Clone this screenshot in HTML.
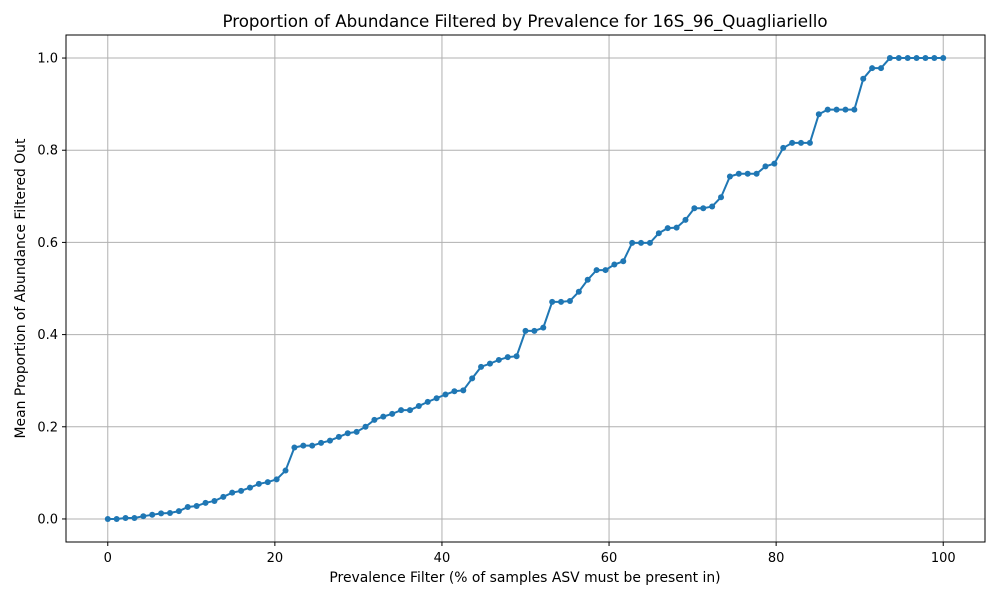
<!DOCTYPE html>
<html><head><meta charset="utf-8"><style>
body{margin:0;background:#fff;}
svg text{font-family:"DejaVu Sans","Liberation Sans",sans-serif;fill:#000;}
</style></head><body>
<svg id="chart" width="1000" height="600">
<rect x="0" y="0" width="1000" height="600" fill="#fff"/>
<text x="525" y="27" font-size="16.7" text-anchor="middle">Proportion of Abundance Filtered by Prevalence for 16S_96_Quagliariello</text>
<g id="grid"></g>
<g id="series"></g>
<rect x="66" y="35" width="919" height="507" fill="none" stroke="#000" stroke-width="1"/>
<g id="axes"></g>
<text x="525" y="582" font-size="13.9" text-anchor="middle">Prevalence Filter (% of samples ASV must be present in)</text>
<text transform="translate(25,288.5) rotate(-90)" font-size="13.9" text-anchor="middle">Mean Proportion of Abundance Filtered Out</text>
</svg>
<script>
const yValues = [0,0,0.002,0.002,0.006,0.009,0.012,0.013,0.017,0.026,0.028,0.035,0.039,0.048,0.057,0.061,0.068,0.076,0.080,0.086,0.105,0.155,0.159,0.159,0.165,0.170,0.178,0.186,0.189,0.200,0.215,0.222,0.228,0.236,0.236,0.245,0.254,0.262,0.270,0.277,0.279,0.305,0.330,0.337,0.345,0.351,0.353,0.408,0.408,0.415,0.471,0.471,0.473,0.493,0.519,0.540,0.540,0.552,0.559,0.599,0.599,0.599,0.620,0.631,0.632,0.649,0.674,0.674,0.678,0.698,0.743,0.749,0.749,0.749,0.765,0.771,0.805,0.816,0.816,0.816,0.878,0.888,0.888,0.888,0.888,0.955,0.978,0.978,1,1,1,1,1,1,1];
const xTicks = [0,20,40,60,80,100];
const yTicks = [0.0,0.2,0.4,0.6,0.8,1.0];
const xScale = v => 66 + (v + 5) / 110 * 919;
const yScale = v => 542 - (v + 0.05) / 1.1 * 507;
const NS = "http://www.w3.org/2000/svg";
const grid = document.getElementById('grid'), axes = document.getElementById('axes'), series = document.getElementById('series');
function mk(tag, attrs, parent){const e=document.createElementNS(NS,tag);for(const k in attrs)e.setAttribute(k,attrs[k]);parent.appendChild(e);return e;}
xTicks.forEach(t=>{
  const x=xScale(t);
  const g=mk('line',{x1:x,x2:x,y1:35,y2:542,stroke:'#b0b0b0','stroke-width':1},grid);
  
  
  const tk=mk('line',{x1:x,x2:x,y1:542,y2:546,stroke:'#000'},axes);
  
  
  const tx=mk('text',{x:x,y:562,'font-size':13,'text-anchor':'middle'},axes);
  tx.textContent=String(t);
  
  
});
yTicks.forEach(t=>{
  const y=yScale(t);
  const g=mk('line',{x1:66,x2:985,y1:y,y2:y,stroke:'#b0b0b0','stroke-width':1},grid);
  
  
  const tk=mk('line',{x1:62,x2:66,y1:y,y2:y,stroke:'#000'},axes);
  
  
  const tx=mk('text',{x:58,y:y+4.5,'font-size':13,'text-anchor':'end'},axes);
  tx.textContent=t.toFixed(1);
  
  
});
const n=yValues.length-1;
const pts=yValues.map((v,i)=>[xScale(i*100/n),yScale(v)]);
const line=mk('polyline',{points:pts.map(p=>p.join(',')).join(' '),fill:'none',stroke:'#1f77b4','stroke-width':2},series);


pts.forEach(p=>{
  const c=mk('circle',{cx:p[0],cy:p[1],r:3,fill:'#1f77b4'},series);
  
  
});
</script>
</body></html>
